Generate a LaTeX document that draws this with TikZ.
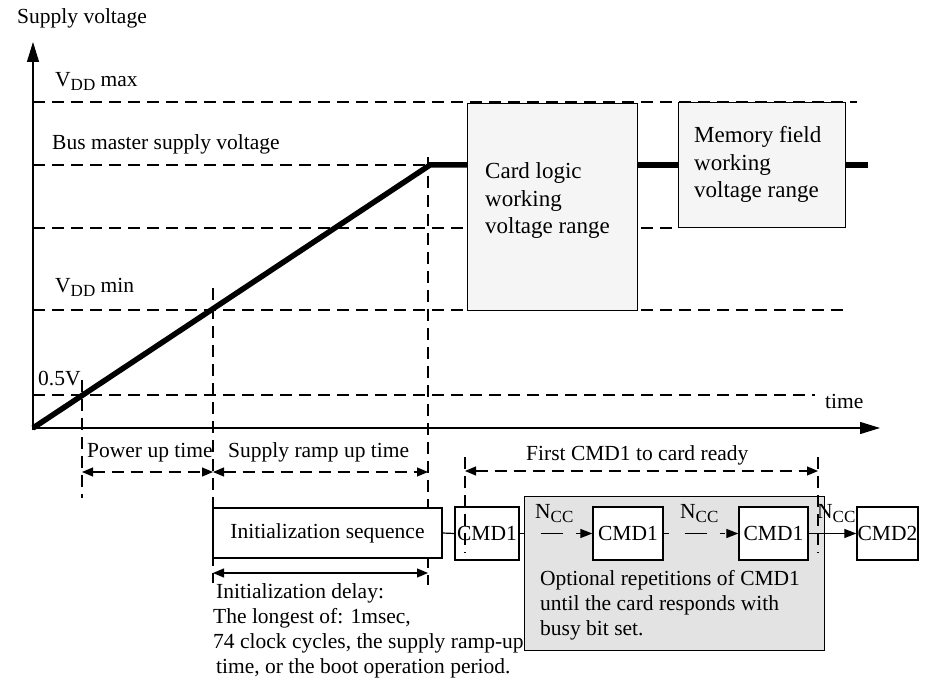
\documentclass[tikz,border=0pt]{standalone}
\usepackage{fontspec}
\setmainfont{Liberation Serif}
\usetikzlibrary{arrows.meta}
\newcommand\lowsub[1]{\raisebox{-4pt}{\fontsize{17}{17}\selectfont #1}}
\begin{document}
\begin{tikzpicture}[x=1pt,y=-1pt,
  txt/.style={inner sep=0pt, font=\fontsize{21.5}{25}\selectfont},
  bigtxt/.style={inner sep=0pt, font=\fontsize{23}{27.5}\selectfont, align=left},
  gridline/.style={line width=1.2pt, dash pattern=on 12pt off 7pt},
  axisline/.style={line width=1.3pt, -{Triangle[length=20pt,width=12pt]}},
  dimline/.style={line width=1.2pt, {Triangle[length=11pt,width=9pt]}-{Triangle[length=11pt,width=9pt]}},
  dimdash/.style={dimline, dash pattern=on 12pt off 7pt},
  nccarrow/.style={line width=1.2pt, -{Triangle[length=12pt,width=9pt]}},
  supply/.style={line width=5.5pt},
  box/.style={draw, line width=1.3pt, inner sep=0pt, font=\fontsize{21.5}{25}\selectfont},
  rangebox/.style={draw, line width=1.3pt, fill=black!4, inner sep=0pt},
]
\useasboundingbox (0,0) rectangle (926,684);

% coordinates
\coordinate (O) at (33,428);
\coordinate (ytip) at (33,42);
\coordinate (xtip) at (880,428);
\coordinate (top) at (430,165);
\coordinate (vend) at (868,165);

% horizontal grid lines
\draw[gridline] (33,102) -- (857,102);
\draw[gridline] (33,165) -- (top);
\draw[gridline] (33,228) -- (678,228);
\draw[gridline] (33,310) -- (847,310);
\draw[gridline] (33,395) -- (815,395);

% vertical dashed lines
\draw[gridline] (82,380) -- (82,498);
\draw[gridline] (213,288) -- (213,583);
\draw[gridline] (428,157) -- (428,585);
\draw[gridline] (465,457) -- (465,553);

% axes
\draw[axisline] (33,430) -- (ytip);
\draw[axisline] (O) -- (xtip);

% range boxes
\node[rangebox, minimum width=170pt, minimum height=207pt, anchor=north west] (card) at (467,103) {};
\node[rangebox, minimum width=167pt, minimum height=125pt, anchor=north west] (mem) at (678,102) {};
\node[bigtxt, anchor=north west] (cardtxt) at (485,162.5) {Card logic\\working\\voltage range};
\node[bigtxt, anchor=north west] (memtxt) at (694,126.5) {Memory field\\working\\voltage range};

% supply voltage curve
\draw[supply] (O) -- (top) -- (card.west |- top);
\draw[supply] (card.east |- top) -- (mem.west |- top);
\draw[supply] (mem.east |- top) -- (vend);

% axis labels
\node[txt, anchor=base west] (ylab) at (17,24) {Supply voltage};
\node[txt, anchor=base west] (tlab) at (825,408) {time};
\node[txt, anchor=base west] (vmax) at (55,87) {V\lowsub{DD} max};
\node[txt, anchor=base west] (bus) at (52,150) {Bus master supply voltage};
\node[txt, anchor=base west] (vmin) at (55,293) {V\lowsub{DD} min};
\node[txt, anchor=base west] (half) at (38,385) {0.5V};

% time spans
\draw[dimdash] (82,472) -- (213,472);
\draw[dimdash] (213,472) -- (428,472);
\node[txt, anchor=base west] (pwr) at (87,457) {Power up time};
\node[txt, anchor=base west] (ramp) at (228,457) {Supply ramp up time};

% command sequence
\node[draw, line width=1.3pt, fill=black!11, minimum width=300pt, minimum height=154pt, anchor=north west] (opt) at (524,496) {};
\node[txt, anchor=north west, align=left] (opttxt) at (540,570.5) {Optional repetitions of CMD1\\until the card responds with\\busy bit set.};

\node[box, fill=white, minimum width=229pt, minimum height=50pt] (init) at (327.5,533) {Initialization sequence};
\node[box, minimum width=64pt, minimum height=53pt] (c1) at (487,533.5) {CMD1};
\node[box, fill=white, minimum width=70pt, minimum height=53pt] (c2) at (628,533.5) {CMD1};
\node[box, fill=white, minimum width=69pt, minimum height=53pt] (c3) at (773.5,533.5) {CMD1};
\node[box, fill=white, minimum width=61pt, minimum height=53pt] (c4) at (887.5,533.5) {CMD2};

\draw[line width=1.2pt] (init.east) -- (c1.west);
\draw[nccarrow, dash pattern=on 5pt off 16pt on 22pt off 13pt] (c1.east) -- (c2.west);
\draw[nccarrow, dash pattern=on 5pt off 16pt on 22pt off 13pt] (c2.east) -- (c3.west);
\draw[nccarrow] (c3.east) -- (c4.west);
\node[txt, anchor=base west] (n1) at (535,518) {N\lowsub{CC}};
\node[txt, anchor=base west] (n2) at (680,518) {N\lowsub{CC}};
\node[txt, anchor=base west] (n3) at (817,518) {N\lowsub{CC}};

\draw[gridline] (818,457) -- (818,553);
\draw[dimdash] (465,471) -- (818,471);
\node[txt, anchor=base west] (first) at (526,460) {First CMD1 to card ready};

% initialization delay
\draw[dimline] (213,573) -- (428,573);
\node[txt, anchor=north west, align=left] (delay) at (213,583.7) {\hspace*{3pt}Initialization delay:\\The longest of: 1msec,\\74 clock cycles, the supply ramp-up\\\hspace*{3pt}time, or the boot operation period.};
\end{tikzpicture}
\end{document}
